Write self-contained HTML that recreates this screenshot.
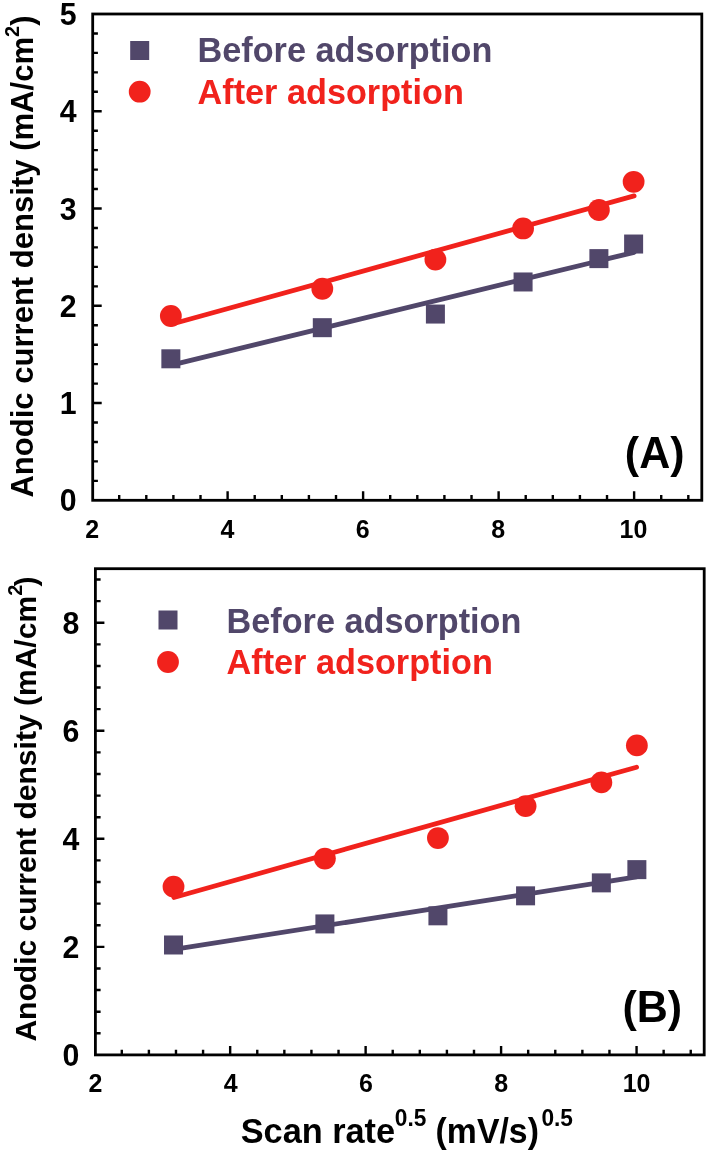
<!DOCTYPE html>
<html lang="en"><head><meta charset="utf-8"><title>Anodic current density vs scan rate</title>
<style>html,body{margin:0;padding:0;background:#fff}svg{display:block}</style></head>
<body>
<svg width="708" height="1154" viewBox="0 0 708 1154" font-family="'Liberation Sans', Arial, Helvetica, sans-serif" font-weight="bold" fill="#000">
<defs><filter id="soft" filterUnits="userSpaceOnUse" x="0" y="0" width="708" height="1154"><feGaussianBlur stdDeviation="0.4"/></filter></defs>
<rect width="708" height="1154" fill="#fff"/>
<g filter="url(#soft)">
<rect x="92.7" y="14" width="609.0999999999999" height="486.3" fill="none" stroke="#000" stroke-width="2.8"/>
<path d="M92.70 480.85h5.2M92.70 461.40h5.2M92.70 441.94h5.2M92.70 422.49h5.2M92.70 403.04h9M92.70 383.59h5.2M92.70 364.14h5.2M92.70 344.68h5.2M92.70 325.23h5.2M92.70 305.78h9M92.70 286.33h5.2M92.70 266.88h5.2M92.70 247.42h5.2M92.70 227.97h5.2M92.70 208.52h9M92.70 189.07h5.2M92.70 169.62h5.2M92.70 150.16h5.2M92.70 130.71h5.2M92.70 111.26h9M92.70 91.81h5.2M92.70 72.36h5.2M92.70 52.90h5.2M92.70 33.45h5.2M119.20 500.30v-5.2M146.30 500.30v-5.2M173.40 500.30v-5.2M200.50 500.30v-5.2M227.61 500.30v-9M254.71 500.30v-5.2M281.81 500.30v-5.2M308.91 500.30v-5.2M336.01 500.30v-5.2M363.11 500.30v-9M390.21 500.30v-5.2M417.31 500.30v-5.2M444.41 500.30v-5.2M471.52 500.30v-5.2M498.62 500.30v-9M525.72 500.30v-5.2M552.82 500.30v-5.2M579.92 500.30v-5.2M607.02 500.30v-5.2M634.12 500.30v-9M661.22 500.30v-5.2M688.32 500.30v-5.2" stroke="#000" stroke-width="2.4" fill="none"/>
<text transform="translate(76.50,511.30) scale(1.0000,1.0400)" font-size="30.3" text-anchor="end">0</text>
<text transform="translate(76.50,414.04) scale(1.0000,1.0400)" font-size="30.3" text-anchor="end">1</text>
<text transform="translate(76.50,316.78) scale(1.0000,1.0400)" font-size="30.3" text-anchor="end">2</text>
<text transform="translate(76.50,219.52) scale(1.0000,1.0400)" font-size="30.3" text-anchor="end">3</text>
<text transform="translate(76.50,122.26) scale(1.0000,1.0400)" font-size="30.3" text-anchor="end">4</text>
<text transform="translate(76.50,25.00) scale(1.0000,1.0400)" font-size="30.3" text-anchor="end">5</text>
<text transform="translate(92.10,537.80) scale(1.0000,1.0650)" font-size="25" text-anchor="middle">2</text>
<text transform="translate(227.46,537.80) scale(1.0000,1.0650)" font-size="25" text-anchor="middle">4</text>
<text transform="translate(362.81,537.80) scale(1.0000,1.0650)" font-size="25" text-anchor="middle">6</text>
<text transform="translate(498.17,537.80) scale(1.0000,1.0650)" font-size="25" text-anchor="middle">8</text>
<text transform="translate(633.52,537.80) scale(1.0000,1.0650)" font-size="25" text-anchor="middle">10</text>
<line x1="171.21" y1="365.14" x2="634.12" y2="252.31" stroke="#51466b" stroke-width="4.8" stroke-linecap="round"/>
<line x1="171.21" y1="324.29" x2="634.12" y2="195.90" stroke="#f1211d" stroke-width="4.8" stroke-linecap="round"/>
<rect x="161.36" y="349.30" width="19" height="19" fill="#51466b"/>
<rect x="312.80" y="318.18" width="19" height="19" fill="#51466b"/>
<rect x="425.90" y="304.56" width="19" height="19" fill="#51466b"/>
<rect x="513.58" y="272.47" width="19" height="19" fill="#51466b"/>
<rect x="589.39" y="249.12" width="19" height="19" fill="#51466b"/>
<rect x="624.12" y="234.53" width="19" height="19" fill="#51466b"/>
<circle cx="170.86" cy="316.01" r="10.9" fill="#f1211d"/>
<circle cx="322.30" cy="288.77" r="10.9" fill="#f1211d"/>
<circle cx="435.40" cy="259.60" r="10.9" fill="#f1211d"/>
<circle cx="523.08" cy="228.47" r="10.9" fill="#f1211d"/>
<circle cx="598.89" cy="209.99" r="10.9" fill="#f1211d"/>
<circle cx="633.62" cy="181.79" r="10.9" fill="#f1211d"/>
<rect x="130.20" y="41.00" width="19" height="19" fill="#51466b"/>
<circle cx="139.70" cy="91.70" r="10.9" fill="#f1211d"/>
<text transform="translate(197.50,62.30) scale(1.0000,1.0150)" font-size="34.25" fill="#51466b">Before adsorption</text>
<text transform="translate(197.50,104.30) scale(1.0000,1.0150)" font-size="34.25" fill="#f1211d">After adsorption</text>
<text transform="translate(624.85,468.30) scale(1.0000,1.0350)" font-size="43">(A)</text>
<text transform="translate(32.70,497.60) rotate(-90) scale(1.0000,1.0000)" font-size="31.05">Anodic current density (mA/cm<tspan font-size="20" dy="-14">2</tspan><tspan dy="14" dx="0">)</tspan></text>
<rect x="95.4" y="568.7" width="608.8000000000001" height="486.20000000000005" fill="none" stroke="#000" stroke-width="2.8"/>
<path d="M95.40 1033.29h5.2M95.40 1011.68h5.2M95.40 990.07h5.2M95.40 968.46h5.2M95.40 946.86h9M95.40 925.25h5.2M95.40 903.64h5.2M95.40 882.03h5.2M95.40 860.42h5.2M95.40 838.81h9M95.40 817.20h5.2M95.40 795.59h5.2M95.40 773.98h5.2M95.40 752.38h5.2M95.40 730.77h9M95.40 709.16h5.2M95.40 687.55h5.2M95.40 665.94h5.2M95.40 644.33h5.2M95.40 622.72h9M95.40 601.11h5.2M95.40 579.50h5.2M121.79 1054.90v-5.2M148.89 1054.90v-5.2M175.98 1054.90v-5.2M203.07 1054.90v-5.2M230.16 1054.90v-9M257.26 1054.90v-5.2M284.35 1054.90v-5.2M311.44 1054.90v-5.2M338.53 1054.90v-5.2M365.63 1054.90v-9M392.72 1054.90v-5.2M419.81 1054.90v-5.2M446.91 1054.90v-5.2M474.00 1054.90v-5.2M501.09 1054.90v-9M528.18 1054.90v-5.2M555.28 1054.90v-5.2M582.37 1054.90v-5.2M609.46 1054.90v-5.2M636.56 1054.90v-9M663.65 1054.90v-5.2M690.74 1054.90v-5.2" stroke="#000" stroke-width="2.4" fill="none"/>
<text transform="translate(79.40,1065.90) scale(1.0000,1.0400)" font-size="30.3" text-anchor="end">0</text>
<text transform="translate(79.40,957.86) scale(1.0000,1.0400)" font-size="30.3" text-anchor="end">2</text>
<text transform="translate(79.40,849.81) scale(1.0000,1.0400)" font-size="30.3" text-anchor="end">4</text>
<text transform="translate(79.40,741.77) scale(1.0000,1.0400)" font-size="30.3" text-anchor="end">6</text>
<text transform="translate(79.40,633.72) scale(1.0000,1.0400)" font-size="30.3" text-anchor="end">8</text>
<text transform="translate(95.40,1092.20) scale(1.0000,1.0650)" font-size="25" text-anchor="middle">2</text>
<text transform="translate(230.69,1092.20) scale(1.0000,1.0650)" font-size="25" text-anchor="middle">4</text>
<text transform="translate(365.98,1092.20) scale(1.0000,1.0650)" font-size="25" text-anchor="middle">6</text>
<text transform="translate(501.27,1092.20) scale(1.0000,1.0650)" font-size="25" text-anchor="middle">8</text>
<text transform="translate(636.56,1092.20) scale(1.0000,1.0650)" font-size="25" text-anchor="middle">10</text>
<line x1="173.87" y1="949.32" x2="636.56" y2="876.93" stroke="#51466b" stroke-width="4.8" stroke-linecap="round"/>
<line x1="173.87" y1="897.46" x2="636.56" y2="767.26" stroke="#f1211d" stroke-width="4.8" stroke-linecap="round"/>
<rect x="164.02" y="935.49" width="19" height="19" fill="#51466b"/>
<rect x="315.39" y="914.43" width="19" height="19" fill="#51466b"/>
<rect x="428.43" y="906.32" width="19" height="19" fill="#51466b"/>
<rect x="516.07" y="886.33" width="19" height="19" fill="#51466b"/>
<rect x="591.84" y="873.37" width="19" height="19" fill="#51466b"/>
<rect x="627.37" y="860.13" width="19" height="19" fill="#51466b"/>
<circle cx="173.52" cy="886.65" r="10.9" fill="#f1211d"/>
<circle cx="324.89" cy="858.56" r="10.9" fill="#f1211d"/>
<circle cx="437.93" cy="838.03" r="10.9" fill="#f1211d"/>
<circle cx="525.57" cy="806.16" r="10.9" fill="#f1211d"/>
<circle cx="601.34" cy="782.39" r="10.9" fill="#f1211d"/>
<circle cx="636.87" cy="745.38" r="10.9" fill="#f1211d"/>
<rect x="158.50" y="610.50" width="19" height="19" fill="#51466b"/>
<circle cx="168.00" cy="662.00" r="10.9" fill="#f1211d"/>
<text transform="translate(226.50,632.50) scale(1.0000,1.0150)" font-size="34.25" fill="#51466b">Before adsorption</text>
<text transform="translate(226.50,674.20) scale(1.0000,1.0150)" font-size="34.25" fill="#f1211d">After adsorption</text>
<text transform="translate(622.50,1021.90) scale(1.0000,1.0350)" font-size="43">(B)</text>
<text transform="translate(35.60,1041.60) rotate(-90) scale(1.0000,0.9750)" font-size="30.06">Anodic current density (mA/cm<tspan font-size="20" dy="-14">2</tspan><tspan dy="14" dx="-1.7">)</tspan></text>
<text transform="translate(240.70,1143.40) scale(1.0000,1.0002)" font-size="34.3">Scan rate</text>
<text transform="translate(394.79,1126.10) scale(1.0000,1.0400)" font-size="22.7">0.5</text>
<text transform="translate(435.61,1143.40) scale(1.0000,1.0150)" font-size="33.8">(mV/s)</text>
<text transform="translate(541.39,1126.10) scale(1.0000,1.0400)" font-size="22.7">0.5</text>
</g>
</svg>
</body></html>
